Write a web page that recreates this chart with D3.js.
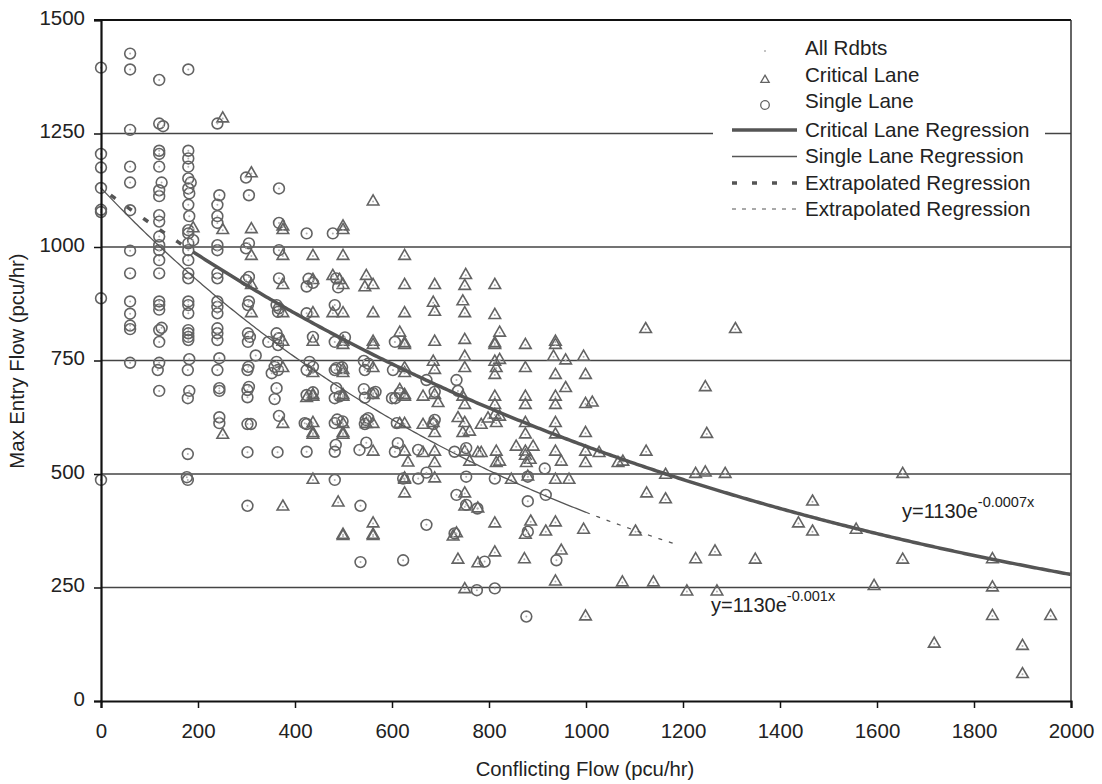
<!DOCTYPE html>
<html>
<head>
<meta charset="utf-8">
<script src="https://cdn.jsdelivr.net/npm/d3@7"></script>
<style>
  html, body { margin: 0; padding: 0; background: #fff; }
  svg { display: block; font-family: "Liberation Sans", Arial, sans-serif; }
</style>
</head>
<body>
<svg id="chart" width="1102" height="784"></svg>
<script>
// ---------------- DATA ----------------
const xTicks = [0, 200, 400, 600, 800, 1000, 1200, 1400, 1600, 1800, 2000];
const yTicks = [0, 250, 500, 750, 1000, 1250, 1500];

// Single Lane observations [conflicting flow, max entry flow]
const singleLane = [
  [0,1395],[0,1205],[0,1175],[0,1130],[0,1082],[0,1077],[0,887],[0,487],
  [60,1426],[60,1391],[60,1258],[60,1177],[60,1142],[60,1081],[60,992],[60,942],[60,880],[60,853],[60,827],[60,819],[60,745],
  [120,1368],[120,1272],[128,1266],[120,1212],[120,1205],[120,1177],[125,1142],[120,1125],[120,1112],[120,1070],[120,1056],[120,1023],[120,1004],[120,993],[120,971],[120,942],[120,880],[120,872],[120,862],[125,822],[120,817],[120,791],[120,745],[117,729],[120,683],
  [180,1391],[180,1212],[180,1195],[180,1177],[180,1151],[185,1142],[180,1129],[182,1118],[180,1093],[182,1068],[180,1037],[180,1030],[190,1015],[180,1008],[180,993],[180,971],[180,942],[180,931],[180,880],[180,872],[180,854],[180,817],[180,810],[180,802],[180,795],[182,753],[179,729],[182,683],[179,667],[179,544],[177,493],[179,487],
  [240,1272],[244,1114],[240,1093],[240,1068],[240,1053],[240,1004],[240,993],[240,942],[240,931],[240,880],[240,868],[240,854],[240,821],[240,810],[240,795],[244,755],[240,729],[244,689],[244,683],[244,625],[244,612],
  [299,1153],[305,1114],[305,1008],[299,997],[305,934],[299,927],[305,880],[303,872],[303,810],[307,802],[303,791],[319,761],[304,736],[302,729],[305,692],[302,685],[302,669],[309,610],[302,610],[302,548],[302,430],
  [367,1129],[367,1053],[367,993],[367,931],[362,872],[367,865],[365,857],[362,810],[367,799],[365,784],[345,791],[362,747],[358,736],[365,729],[352,722],[362,689],[358,665],[367,628],[364,548],
  [424,1030],[428,930],[437,921],[424,913],[424,854],[437,802],[430,747],[424,729],[437,736],[437,680],[424,674],[420,612],[424,610],[424,549],
  [478,1030],[485,931],[489,911],[482,872],[482,791],[503,801],[482,729],[485,733],[497,735],[485,689],[482,667],[492,671],[487,620],[498,616],[482,612],[484,564],[482,549],[482,487],
  [542,749],[544,729],[551,743],[542,687],[566,681],[544,668],[561,678],[546,619],[544,610],[551,623],[533,553],[547,569],[535,430],[535,306],
  [606,791],[602,729],[616,678],[600,667],[607,667],[610,612],[606,549],[612,568],[623,490],[654,490],[671,503],[654,553],[671,388],[623,310],
  [671,707],[733,707],[736,683],[688,681],[688,619],[685,610],[729,549],[753,557],[753,494],[733,454],[753,432],[776,424],[729,369],[791,307],[775,244],[812,248],
  [812,490],[880,494],[915,512],[917,454],[880,440],[880,373],[939,310],[877,186]
];

// Critical Lane observations [conflicting flow, max entry flow]
const criticalLane = [
  [251,1283],[310,1162],[561,1100],[190,1041],[251,1037],[310,1039],[375,1045],[375,1037],[499,1045],[499,1037],
  [310,980],[375,980],[437,980],[499,980],[626,980],
  [310,916],[375,916],[437,927],[478,936],[492,927],[499,916],[547,936],[544,911],[561,916],[626,916],[688,916],[752,938],[750,914],[812,916],
  [310,854],[375,854],[437,854],[478,854],[499,854],[561,854],[626,854],[685,877],[688,857],[746,880],[750,854],[812,850],
  [375,791],[437,791],[499,791],[561,791],[616,811],[626,788],[688,791],[750,795],[812,788],[822,811],[812,784],[875,784],[937,791],[937,784],[499,784],[561,784],[626,784],
  [375,733],[437,722],[499,729],[499,722],[561,733],[626,733],[626,722],[685,747],[688,729],[750,758],[750,733],[812,747],[822,751],[815,733],[812,718],[875,733],[933,758],[958,750],[995,758],[937,718],[999,718],
  [616,685],[626,674],[626,670],[437,670],[424,667],[437,674],[499,674],[499,670],[561,674],[664,670],[688,674],[695,656],[750,652],[746,670],[812,670],[812,652],[875,670],[875,652],[937,670],[937,652],[958,689],[999,654],[1013,657],
  [375,610],[437,612],[499,610],[547,610],[561,610],[616,610],[626,610],[664,608],[685,612],[736,623],[750,612],[746,590],[760,593],[688,590],[499,590],[437,590],[437,586],[499,586],[251,586],[798,622],[812,630],[822,626],[784,608],[815,612],[875,612],[875,587],[937,612],[937,587],[999,590],
  [561,549],[626,549],[633,525],[664,546],[688,549],[688,524],[750,549],[760,527],[777,546],[784,546],[815,549],[815,524],[822,527],[856,560],[891,560],[875,549],[875,540],[877,524],[885,531],[937,549],[949,527],[999,549],[999,524],[1027,546],[1066,524],[1076,527],[1124,549],
  [437,487],[626,487],[626,490],[688,490],[846,487],[880,494],[937,487],[965,487],[1164,498],[1226,500],[1246,503],[1287,500],[1653,500],
  [626,457],[375,428],[489,437],[750,457],[750,428],[777,424],[1125,457],[1164,444],[1467,439],
  [561,391],[499,366],[561,366],[499,363],[561,363],[733,369],[726,362],[812,391],[886,395],[937,393],[995,377],[917,373],[875,366],[1102,373],[1438,391],[1467,373],[1557,377],
  [736,311],[777,303],[812,327],[873,312],[949,331],[1226,312],[1266,329],[1349,311],[1653,311],[1838,312],
  [750,246],[937,263],[1075,261],[1139,261],[1208,241],[1270,241],[1594,253],[1838,250],
  [999,186],[1838,187],[1958,187],[1718,126],[1900,121],[1900,59],
  [1123,819],[1308,819],[1246,691],[1249,588]
];

// All roundabouts = every observation
const allRdbts = singleLane.concat(criticalLane);

// Regression models y = a * exp(b x) (as labelled on the chart)
const critReg   = { a: 1130, b: -0.0007, fitFrom: 190, fitTo: 2000, extrapFrom: 0 };
const singleReg = { a: 1130, b: -0.001,  fitFrom: 0,   fitTo: 1000, extrapTo: 1190 };

const legendItems = ["All Rdbts", "Critical Lane", "Single Lane", "Critical Lane Regression",
                     "Single Lane Regression", "Extrapolated Regression", "Extrapolated Regression"];

// ---------------- CHART ----------------
const svg = d3.select("#chart");
const X0 = 101, X1 = 1071, Y0 = 701, Y1 = 20;
const x = d3.scaleLinear().domain([0, 2000]).range([X0, X1]);
const y = d3.scaleLinear().domain([0, 1500]).range([Y0, Y1]);

const markerColor = "#636363";
const lineColor = "#555";
const FONT = "Liberation Sans, Arial, sans-serif";

// gridlines
svg.append("g").selectAll("line")
  .data(yTicks.filter(d => d > 0 && d < 1500))
  .join("line")
  .attr("x1", X0).attr("x2", X1)
  .attr("y1", d => y(d)).attr("y2", d => y(d))
  .attr("stroke", "#444").attr("stroke-width", 1.3);

// top border & right border
svg.append("line").attr("x1", X0 - 7).attr("x2", X1).attr("y1", y(1500)).attr("y2", y(1500))
  .attr("stroke", "#111").attr("stroke-width", 2);
svg.append("line").attr("x1", X1).attr("x2", X1).attr("y1", Y1).attr("y2", Y0)
  .attr("stroke", "#333").attr("stroke-width", 1.5);

// Critical Lane triangles
const tri = d3.symbol().type(d3.symbolTriangle).size(58);
svg.append("g").selectAll("path")
  .data(criticalLane).join("path")
  .attr("d", tri)
  .attr("transform", d => `translate(${x(d[0])},${y(d[1])})`)
  .attr("fill", "none").attr("stroke", markerColor).attr("stroke-width", 1.6);

// Single Lane circles
svg.append("g").selectAll("circle")
  .data(singleLane).join("circle")
  .attr("cx", d => x(d[0])).attr("cy", d => y(d[1])).attr("r", 5.4)
  .attr("fill", "none").attr("stroke", markerColor).attr("stroke-width", 1.6);

// All Rdbts tiny dots
svg.append("g").selectAll("circle")
  .data(allRdbts).join("circle")
  .attr("cx", d => x(d[0])).attr("cy", d => y(d[1])).attr("r", 1)
  .attr("fill", "#b0b0b0");

// Regression curves
function curve(reg, from, to) {
  const pts = d3.range(from, to, 5).concat([to]);
  return d3.line().x(v => x(v)).y(v => y(reg.a * Math.exp(reg.b * v)))(pts);
}
svg.append("path").attr("d", curve(critReg, critReg.extrapFrom, critReg.fitFrom))
  .attr("fill", "none").attr("stroke", lineColor).attr("stroke-width", 3.5)
  .attr("stroke-dasharray", "6,14").attr("stroke-dashoffset", 8);
svg.append("path").attr("d", curve(critReg, critReg.fitFrom, critReg.fitTo))
  .attr("fill", "none").attr("stroke", lineColor).attr("stroke-width", 3.5);
svg.append("path").attr("d", curve(singleReg, singleReg.fitFrom, singleReg.fitTo))
  .attr("fill", "none").attr("stroke", lineColor).attr("stroke-width", 1.3);
svg.append("path").attr("d", curve(singleReg, singleReg.fitTo, singleReg.extrapTo))
  .attr("fill", "none").attr("stroke", lineColor).attr("stroke-width", 1.2)
  .attr("stroke-dasharray", "4,7");

// Equation labels
function eqLabel(px, py, base, sup) {
  const t = svg.append("text").attr("x", px).attr("y", py)
    .attr("font-size", 20).attr("fill", "#222");
  t.append("tspan").text(base);
  t.append("tspan").attr("dy", -11).attr("font-size", 14.5).text(sup);
}
eqLabel(902, 518, "y=1130e", "-0.0007x");
eqLabel(711, 612, "y=1130e", "-0.001x");

// Axes
const yAxis = d3.axisLeft(y).tickValues(yTicks).tickSize(7).tickPadding(9).tickFormat(d3.format("d"));
const gy = svg.append("g").attr("transform", `translate(${X0},0)`).call(yAxis);
gy.select(".domain").attr("stroke", "#111").attr("stroke-width", 2.2);
gy.selectAll(".tick line").attr("stroke", "#111").attr("stroke-width", 1.5);
gy.selectAll(".tick text").attr("font-size", 20.5).attr("fill", "#222")
  .attr("font-family", FONT).attr("dy", "0.2em");

const xAxis = d3.axisBottom(x).tickValues(xTicks).tickSize(7).tickPadding(15).tickFormat(d3.format("d"));
const gx = svg.append("g").attr("transform", `translate(0,${Y0})`).call(xAxis);
gx.select(".domain").attr("stroke", "#111").attr("stroke-width", 2.2);
gx.selectAll(".tick line").attr("stroke", "#111").attr("stroke-width", 1.5);
gx.selectAll(".tick text").attr("font-size", 20.5).attr("fill", "#222")
  .attr("font-family", FONT);

// Axis titles
svg.append("text").attr("x", 585).attr("y", 776).attr("text-anchor", "middle")
  .attr("font-size", 20.3).attr("fill", "#222").text("Conflicting Flow (pcu/hr)");
svg.append("text").attr("transform", "translate(24,361) rotate(-90)").attr("text-anchor", "middle")
  .attr("font-size", 20.3).attr("fill", "#222").text("Max Entry Flow (pcu/hr)");

// Legend
const lg = svg.append("g");
lg.append("rect").attr("x", 713).attr("y", 30).attr("width", 332).attr("height", 195).attr("fill", "#fff");
const rowBase = [55, 81.5, 108, 137, 163, 189.5, 215.5];
const symX1 = 732, symX2 = 797, symC = 765;
lg.selectAll("text").data(legendItems).join("text")
  .attr("x", 805).attr("y", (d, i) => rowBase[i])
  .attr("font-size", 20.6).attr("fill", "#222").text(d => d);
lg.append("circle").attr("cx", symC).attr("cy", 51).attr("r", 1).attr("fill", "#b0b0b0");
lg.append("path").attr("d", d3.symbol().type(d3.symbolTriangle).size(30)())
  .attr("transform", `translate(${symC},80)`).attr("fill", "none").attr("stroke", markerColor).attr("stroke-width", 1.3);
lg.append("circle").attr("cx", symC).attr("cy", 105).attr("r", 4.3)
  .attr("fill", "none").attr("stroke", markerColor).attr("stroke-width", 1.3);
lg.append("line").attr("x1", symX1).attr("x2", symX2).attr("y1", 130).attr("y2", 130)
  .attr("stroke", lineColor).attr("stroke-width", 3.5);
lg.append("line").attr("x1", symX1).attr("x2", symX2).attr("y1", 156.5).attr("y2", 156.5)
  .attr("stroke", lineColor).attr("stroke-width", 1.3);
lg.append("line").attr("x1", symX1).attr("x2", symX2).attr("y1", 183).attr("y2", 183)
  .attr("stroke", lineColor).attr("stroke-width", 3.5).attr("stroke-dasharray", "5,15");
lg.append("line").attr("x1", symX1).attr("x2", symX2).attr("y1", 209).attr("y2", 209)
  .attr("stroke", lineColor).attr("stroke-width", 1.2).attr("stroke-dasharray", "4,6");
</script>
</body>
</html>
